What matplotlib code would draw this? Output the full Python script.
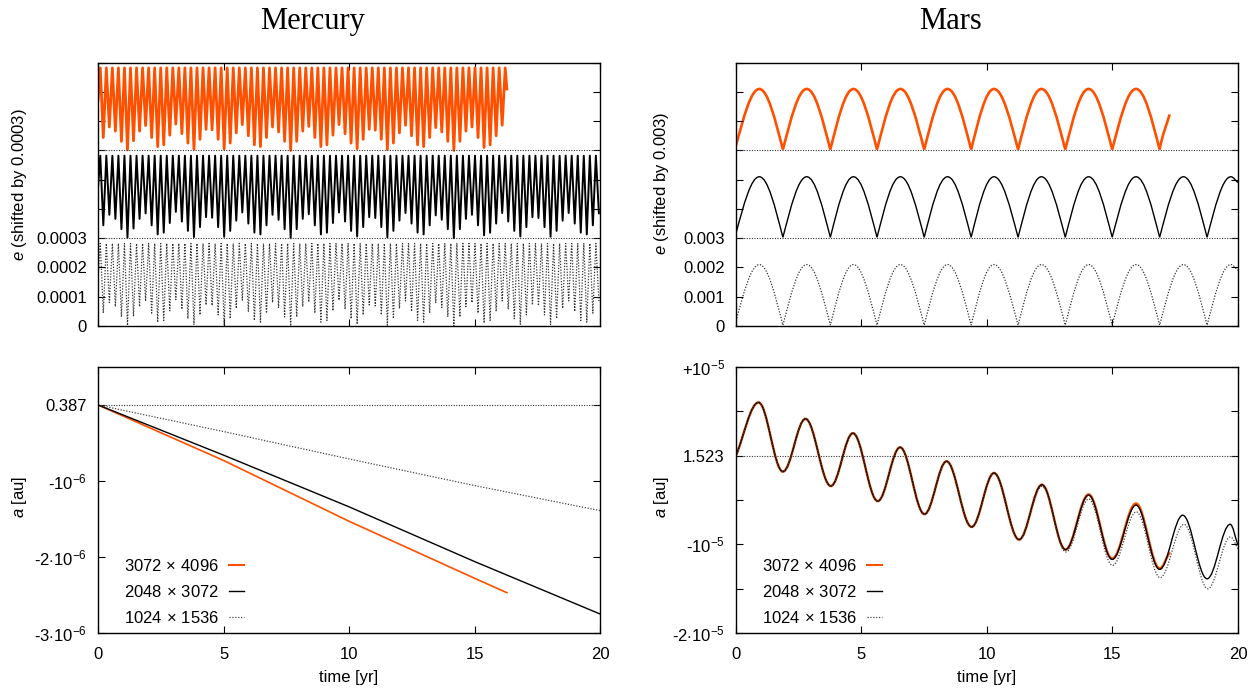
import numpy as np
import matplotlib
matplotlib.use("Agg")
import matplotlib.pyplot as plt
from matplotlib.path import Path
from matplotlib.patches import PathPatch
from matplotlib.lines import Line2D

plt.rcParams['font.family'] = ['Liberation Sans', 'DejaVu Sans']
plt.rcParams['mathtext.fontset'] = 'custom'
plt.rcParams['mathtext.rm'] = 'Liberation Sans'
plt.rcParams['mathtext.it'] = 'Liberation Sans:italic'

ORANGE = '#ff5000'
DOT = (0, (1, 1.3))

labels = ['3072$\\,\\times\\,$4096', '2048$\\,\\times\\,$3072',
          '1024$\\,\\times\\,$1536']

# ---- Mercury eccentricity (units 1e-4), one dip value per orbit ----
merc_period = 0.2408
merc_first_dip = 0.21
merc_peak = 2.82
merc_start = 1.72
merc_dips = [0.44, 0.80, 0.66, 0.31, 0.02, 0.33, 0.66, 0.85, 0.44, 0.13,
             0.19, 0.52, 0.90, 0.57, 0.25, 0.04, 0.38, 0.72, 0.70, 0.38,
             0.05, 0.25, 0.60, 0.88, 0.50, 0.19, 0.13, 0.44, 0.80, 0.63,
             0.31, 0.00, 0.31, 0.66, 0.82, 0.44, 0.13, 0.19, 0.52, 0.88,
             0.57, 0.25, 0.06, 0.38, 0.72, 0.69, 0.38, 0.03, 0.25, 0.60,
             0.86, 0.50, 0.19, 0.13, 0.44, 0.78, 0.63, 0.31, 0.00, 0.31,
             0.66, 0.80, 0.44, 0.10, 0.19, 0.50, 0.86, 0.57, 0.25, 0.06,
             0.38, 0.72, 0.69, 0.38, 0.05, 0.25, 0.60, 0.86, 0.50, 0.19,
             0.13, 0.44, 0.85]
merc_orange_end = (16.29, 2.10)

# ---- Mercury semi-major axis (offset from 0.387, units 1e-6) ----
merc_a_t_orange = [0, 5, 10, 15, 16.29]
merc_a_orange = [0, -0.73, -1.53, -2.28, -2.47]
merc_a_t = [0, 5, 10, 15, 20]
merc_a_black = [0, -0.66, -1.34, -2.06, -2.75]
merc_a_dotted = [0, -0.35, -0.71, -1.06, -1.39]

# ---- Mars eccentricity (units 1e-3): start, peaks and cusps ----
mars_e_t = [0, 0.93, 1.87, 2.82, 3.76, 4.68, 5.62, 6.55, 7.50, 8.43, 9.37,
            10.28, 11.24, 12.17, 13.12, 14.05, 14.99, 15.94, 16.88, 17.83,
            18.77, 19.72, 20.0]
mars_e_v = [0.17, 2.10, 0.03, 2.10, 0.03, 2.10, 0.03, 2.10, 0.03, 2.10, 0.03,
            2.10, 0.03, 2.10, 0.03, 2.10, 0.03, 2.10, 0.03, 2.10, 0.03, 2.10,
            1.90]
mars_e_kind = 'cf' * 11 + 'l'
mars_e_orange_end = (17.28, 1.23)

# ---- Mars semi-major axis (offset from 1.523, units 1e-5): extrema ----
mars_a_t_black = [0, 0.90, 1.87, 2.77, 3.78, 4.66, 5.65, 6.54, 7.51, 8.39,
                  9.39, 10.28, 11.28, 12.19, 13.13, 14.05, 14.99, 15.94,
                  16.88, 17.80, 18.77, 19.69, 20.0]
mars_a_black = [0, 0.60, -0.18, 0.415, -0.343, 0.253, -0.513, 0.094, -0.66,
                -0.064, -0.804, -0.196, -0.947, -0.328, -1.06, -0.445, -1.17,
                -0.558, -1.283, -0.672, -1.389, -0.774, -1.01]
mars_a_t_orange = [0, 0.90, 1.87, 2.77, 3.78, 4.66, 5.65, 6.54, 7.51, 8.39,
                   9.39, 10.28, 11.28, 12.19, 13.13, 14.05, 14.99, 15.94,
                   16.88, 17.28]
mars_a_orange = [0, 0.60, -0.18, 0.415, -0.343, 0.253, -0.513, 0.094, -0.66,
                 -0.064, -0.804, -0.196, -0.947, -0.328, -1.06, -0.438,
                 -1.162, -0.54, -1.272, -1.087]
mars_a_t_dotted = [0, 0.90, 1.87, 2.77, 3.78, 4.66, 5.65, 6.54, 7.51, 8.39,
                   9.39, 10.28, 11.28, 12.19, 13.15, 14.05, 15.0, 15.95,
                   16.9, 17.85, 18.8, 19.7, 20.0]
mars_a_dotted = [0, 0.60, -0.18, 0.415, -0.343, 0.253, -0.513, 0.094, -0.66,
                 -0.064, -0.804, -0.196, -0.947, -0.347, -1.087, -0.49,
                 -1.238, -0.634, -1.377, -0.774, -1.502, -0.917, -1.05]


def smooth(ax, t, v, kinds, **kw):
    # bezier through read nodes: f = flat extremum, c = cusp, l = plain end
    lead = {'f': 0.0, 'c': 0.5, 'l': 0.33}
    verts = [(t[0], v[0])]
    codes = [Path.MOVETO]
    for i in range(1, len(t)):
        dt = t[i] - t[i - 1]
        dv = v[i] - v[i - 1]
        k0, k1 = kinds[i - 1], kinds[i]
        s0 = 0.36 if k0 == 'f' else 1 / 3
        s1 = 0.36 if k1 == 'f' else 1 / 3
        verts.append((t[i - 1] + s0 * dt, v[i - 1] + lead[k0] * dv))
        verts.append((t[i] - s1 * dt, v[i] - lead[k1] * dv))
        verts.append((t[i], v[i]))
        codes += [Path.CURVE4] * 3
    ax.add_patch(PathPatch(Path(verts, codes), fill=False, **kw))


def merc_e_series(offset):
    cusp_t = merc_first_dip + merc_period * np.arange(len(merc_dips))
    t = np.empty(2 * len(cusp_t))
    v = np.empty(2 * len(cusp_t))
    t[0::2] = cusp_t - merc_period / 2
    t[1::2] = cusp_t
    v[0::2] = merc_peak
    v[1::2] = merc_dips
    t = np.concatenate([[0], t])
    v = np.concatenate([[merc_start], v])
    return t, (v + offset) * 1e-4


def style(ax):
    ax.set_xlim(0, 20)
    ax.set_xticks([0, 5, 10, 15, 20])
    ax.tick_params(direction='in', length=5, width=0.8, top=True, right=True,
                   labelsize=12, pad=8)
    ax.tick_params(axis='x', pad=10)
    for s in ax.spines.values():
        s.set_linewidth(1.0)


fig = plt.figure(figsize=(12.6, 6.92), dpi=100)
ax_me = fig.add_axes([0.0778, 0.5289, 0.3984, 0.3806])
ax_ma = fig.add_axes([0.0778, 0.0853, 0.3984, 0.3844])
ax_se = fig.add_axes([0.5841, 0.5289, 0.3984, 0.3806])
ax_sa = fig.add_axes([0.5841, 0.0853, 0.3984, 0.3844])

fig.text(0.248, 1 - 29 / 692, 'Mercury', ha='center', va='baseline',
         fontsize=22, family='Liberation Serif')
fig.text(0.754, 1 - 29 / 692, 'Mars', ha='center', va='baseline',
         fontsize=22, family='Liberation Serif')

# Mercury e
t, v = merc_e_series(0)
ax_me.plot(t, v, color='#333333', lw=0.9, ls=DOT)
t, v = merc_e_series(3)
ax_me.plot(t, v, color='black', lw=1.4)
t, v = merc_e_series(6)
keep = t < merc_orange_end[0]
ax_me.plot(np.append(t[keep], merc_orange_end[0]),
           np.append(v[keep], (merc_orange_end[1] + 6) * 1e-4),
           color=ORANGE, lw=2.0)
for y0 in [0.0003, 0.0006]:
    ax_me.axhline(y0, color='#333333', lw=0.8, ls=DOT)
style(ax_me)
ax_me.set_ylim(0, 0.0009)
ax_me.set_yticks(np.arange(10) * 0.0001)
ax_me.set_yticklabels(['0', '0.0001', '0.0002', '0.0003'] + [''] * 6)
ax_me.set_xticklabels([])
ax_me.set_ylabel('$e$ (shifted by 0.0003)', fontsize=12)
ax_me.yaxis.set_label_coords(-0.138, 0.536)

# Mercury a
ax_ma.axhline(0, color='#333333', lw=0.8, ls=DOT)
ax_ma.plot(merc_a_t_orange, merc_a_orange, color=ORANGE, lw=1.2)
ax_ma.plot(merc_a_t, merc_a_black, color='black', lw=1.0)
ax_ma.plot(merc_a_t, merc_a_dotted, color='#444444', lw=0.9, ls=DOT)
style(ax_ma)
ax_ma.set_ylim(-3, 0.5)
ax_ma.set_yticks([-3, -2, -1, 0])
ax_ma.set_yticklabels(['-3$\\cdot$10$^{-6}$', '-2$\\cdot$10$^{-6}$',
                       '-10$^{-6}$', '0.387'])
ax_ma.set_xlabel('time [yr]', fontsize=12, labelpad=6)
ax_ma.set_ylabel('$a$ [au]', fontsize=12)
ax_ma.yaxis.set_label_coords(-0.138, 0.51)

# Mars e
e_sc = np.array(mars_e_v) * 1e-3
smooth(ax_se, mars_e_t, e_sc, mars_e_kind, color='#333333', lw=0.9, ls=DOT)
smooth(ax_se, mars_e_t, e_sc + 0.003, mars_e_kind, color='black', lw=1.0)
n = mars_e_t.index(16.88) + 1
smooth(ax_se, mars_e_t[:n] + [mars_e_orange_end[0]],
       list(e_sc[:n] + 0.006) + [mars_e_orange_end[1] * 1e-3 + 0.006],
       mars_e_kind[:n] + 'l', color=ORANGE, lw=1.9)
for y0 in [0.003, 0.006]:
    ax_se.axhline(y0, color='#333333', lw=0.8, ls=DOT)
style(ax_se)
ax_se.set_ylim(0, 0.009)
ax_se.set_yticks(np.arange(10) * 0.001)
ax_se.set_yticklabels(['0', '0.001', '0.002', '0.003'] + [''] * 6)
ax_se.set_xticklabels([])
ax_se.set_ylabel('$e$ (shifted by 0.003)', fontsize=12)
ax_se.yaxis.set_label_coords(-0.13, 0.54)

# Mars a
ax_sa.axhline(0, color='#333333', lw=0.8, ls=DOT)
kind = lambda n: 'l' + 'f' * (n - 2) + 'l'
smooth(ax_sa, mars_a_t_orange, mars_a_orange, kind(len(mars_a_orange)),
       color=ORANGE, lw=1.8)
smooth(ax_sa, mars_a_t_black, mars_a_black, kind(len(mars_a_black)),
       color='black', lw=1.0)
smooth(ax_sa, mars_a_t_dotted, mars_a_dotted, kind(len(mars_a_dotted)),
       color='#444444', lw=0.9, ls=DOT)
style(ax_sa)
ax_sa.set_ylim(-2, 1)
ax_sa.set_yticks(np.arange(-2, 1.01, 0.5))
ax_sa.set_yticklabels(['-2$\\cdot$10$^{-5}$', '', '-10$^{-5}$', '',
                       '1.523', '', '+10$^{-5}$'])
ax_sa.set_xlabel('time [yr]', fontsize=12, labelpad=6)
ax_sa.set_ylabel('$a$ [au]', fontsize=12)
ax_sa.yaxis.set_label_coords(-0.13, 0.51)

handles = [Line2D([], [], color=ORANGE, lw=1.5),
           Line2D([], [], color='black', lw=1.0),
           Line2D([], [], color='#444444', lw=0.9, ls=DOT)]
for ax in [ax_ma, ax_sa]:
    ax.legend(handles, labels, loc='lower left', frameon=False,
              markerfirst=False, fontsize=12, handlelength=0.9,
              handletextpad=0.6, labelspacing=0.6,
              bbox_to_anchor=(0.022, -0.03))

fig.savefig('out.png', dpi=100)
